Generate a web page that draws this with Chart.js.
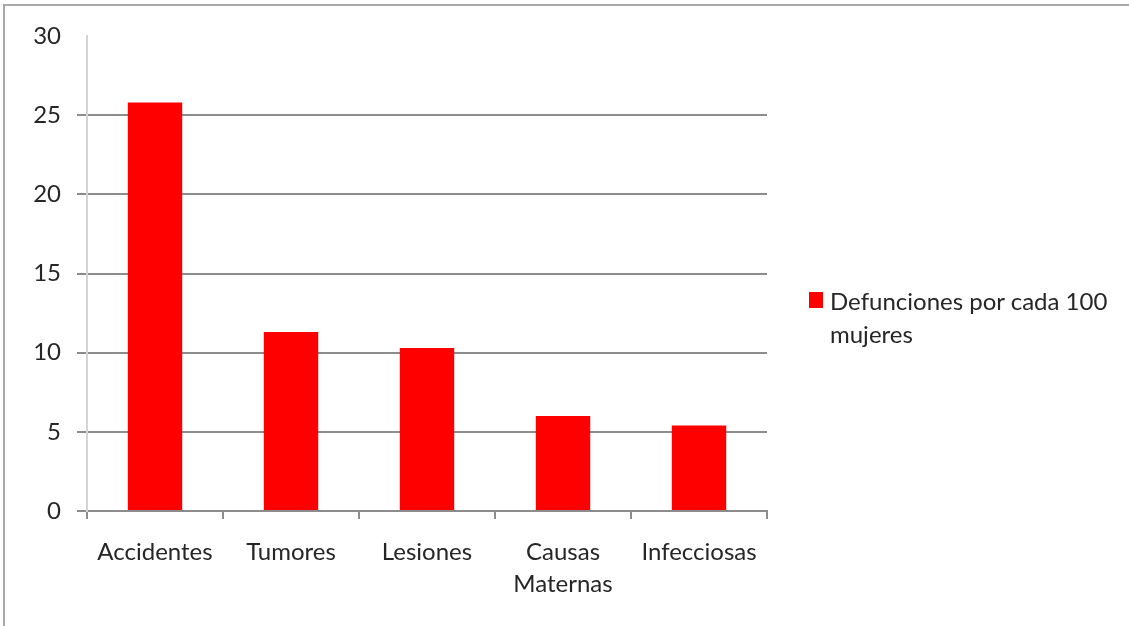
<!DOCTYPE html>
<html>
<head>
<meta charset="utf-8">
<title>Defunciones por cada 100 mujeres</title>
<script src="https://cdn.jsdelivr.net/npm/chart.js@4/dist/chart.umd.min.js"></script>
<style>
    html, body { margin: 0; padding: 0; background: #fff; overflow: hidden; }
    #wrap { position: relative; width: 1129px; height: 626px; overflow: hidden; }
    #frame { position: absolute; left: 3px; top: 4px; width: 2000px; height: 2000px; border: 2px solid #a8a8a8; }
    #chart { position: absolute; left: 0; top: 0; }
    #legend { position: absolute; left: 809px; top: 284px; font-family: Lato, "Open Sans", sans-serif; font-size: 24px; line-height: 33px; color: #262626; }
    #legend .box { position: absolute; left: 0; top: 8px; width: 14px; height: 16px; background: #ff0000; }
    #legend .text { margin-left: 21px; }
</style>
</head>
<body>
<div id="wrap">
    <div id="frame"></div>
    <canvas id="chart" width="1129" height="626"></canvas>
    <div id="legend"><span class="box"></span><div class="text" id="legendText"></div></div>
</div>
<script>
// data
const categories = ['Accidentes', 'Tumores', 'Lesiones', ['Causas', 'Maternas'], 'Infecciosas'];
const defunciones = [25.8, 11.3, 10.3, 6.0, 5.4];
const seriesName = ['Defunciones por cada 100', 'mujeres'];
const yTicks = [0, 5, 10, 15, 20, 25, 30];

const FONT = 'Lato, "Open Sans", sans-serif';

document.getElementById('legendText').innerHTML = seriesName.join('<br>');

const ctx = document.getElementById('chart').getContext('2d');
new Chart(ctx, {
    type: 'bar',
    data: {
        labels: categories,
        datasets: [{
            label: seriesName.join(' '),
            data: defunciones,
            backgroundColor: '#ff0000',
            borderWidth: 0,
            barPercentage: 0.4,
            categoryPercentage: 1
        }]
    },
    options: {
        responsive: false,
        animation: false,
        devicePixelRatio: 1,
        layout: { padding: { left: 0, top: 36, right: 362, bottom: 0 } },
        plugins: { legend: { display: false }, tooltip: { enabled: false } },
        scales: {
            x: {
                offset: true,
                grid: { offset: true, drawOnChartArea: false, tickLength: 8, color: '#8c8c8c', lineWidth: 2 },
                border: { color: '#8c8c8c', width: 2 },
                ticks: { color: '#262626', font: { family: FONT, size: 24, lineHeight: 1.35 }, padding: 17, maxRotation: 0 },
                afterFit: s => { s.height = 115; }
            },
            y: {
                min: 0,
                max: 30,
                afterBuildTicks: s => { s.ticks = yTicks.map(v => ({ value: v })); },
                grid: {
                    tickLength: 10,
                    lineWidth: 2,
                    color: c => (c.tick && c.tick.value === 30) ? 'rgba(0,0,0,0)' : '#8c8c8c'
                },
                border: { color: '#d4d4d4', width: 2 },
                ticks: { color: '#262626', font: { family: FONT, size: 24 }, padding: 16 },
                afterFit: s => { s.width = 87; }
            }
        }
    }
});
</script>
</body>
</html>
